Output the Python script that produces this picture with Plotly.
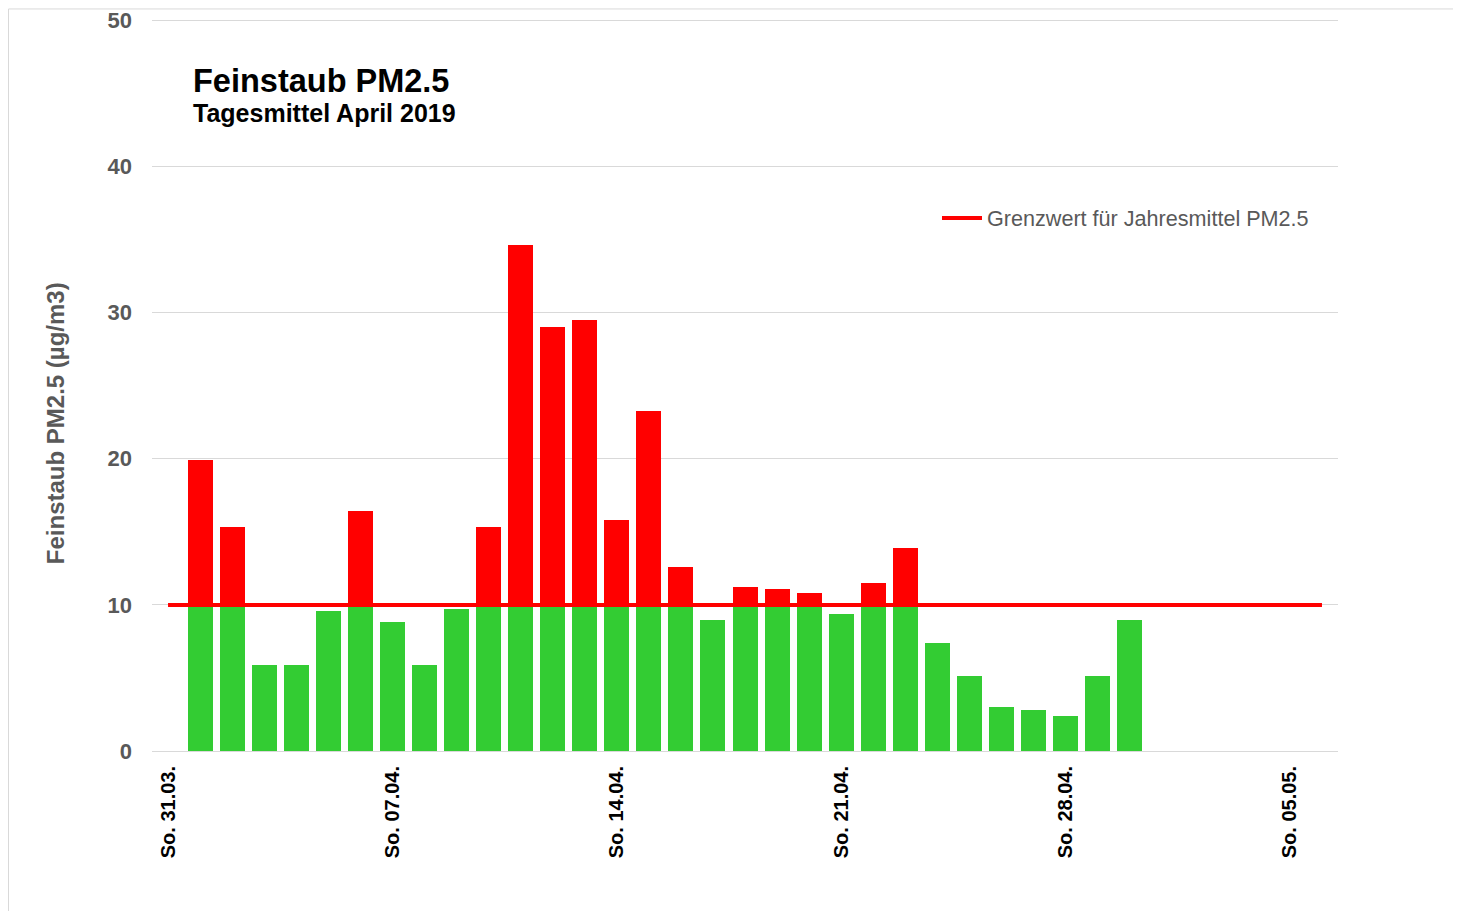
import plotly.graph_objects as go

# ---- data ----
days = [f"2019-04-{d:02d}" for d in range(1, 31)]
pm25 = [19.9, 15.3, 5.9, 5.9, 9.6, 16.4, 8.8, 5.9, 9.7, 15.3,
        34.6, 29.0, 29.5, 15.8, 23.3, 12.6, 9.0, 11.2, 11.1, 10.8,
        9.4, 11.5, 13.9, 7.4, 5.1, 3.0, 2.8, 2.4, 5.1, 9.0]
limit = 10
limit_x = ["2019-03-31", "2019-05-06"]
tick_dates = ["2019-03-31", "2019-04-07", "2019-04-14", "2019-04-21", "2019-04-28", "2019-05-05"]
tick_text = ["So. 31.03.", "So. 07.04.", "So. 14.04.", "So. 21.04.", "So. 28.04.", "So. 05.05."]
y_ticks = [0, 10, 20, 30, 40, 50]

green_part = [min(v, limit) for v in pm25]
red_part = [max(v - limit, 0) for v in pm25]

day_ms = 86400000
fig = go.Figure()
fig.add_trace(go.Bar(x=days, y=green_part, marker=dict(color="#33CC33", line=dict(width=0)),
                     width=0.78 * day_ms, showlegend=False, hoverinfo="skip"))
fig.add_trace(go.Bar(x=days, y=red_part, marker=dict(color="#FF0000", line=dict(width=0)),
                     width=0.78 * day_ms, showlegend=False, hoverinfo="skip"))
fig.add_trace(go.Scatter(x=limit_x, y=[limit, limit], mode="lines",
                         line=dict(color="#FF0000", width=4),
                         name="Grenzwert für Jahresmittel PM2.5"))

W, H = 1461, 911
YMAX = 50.1
L = 144
pw = 1186
unit = 731 / 50            # px per y unit
ph = unit * YMAX
bottom = 743
T = bottom - ph
R, B = W - L - pw, H - bottom

def px(x):
    return (x - L) / pw

def py(y):
    return (bottom - y) / ph

fig.update_layout(
    width=W, height=H,
    margin=dict(l=L, r=R, t=T, b=B, autoexpand=False),
    barmode="stack", bargap=0,
    plot_bgcolor="white", paper_bgcolor="white",
    font=dict(family="Liberation Sans, Arial, sans-serif"),
    showlegend=True,
    legend=dict(x=px(929), y=py(210), xanchor="left", yanchor="middle",
                bgcolor="rgba(0,0,0,0)", font=dict(size=21.6, color="#595959"),
                itemwidth=40),
    xaxis=dict(type="date", range=["2019-03-30 12:00", "2019-05-06 12:00"],
               tickmode="array", tickvals=tick_dates, ticktext=tick_text,
               tickangle=-90, tickfont=dict(size=20, color="black", weight="bold"),
               showgrid=False, showline=True, linecolor="#D9D9D9", linewidth=1,
               ticks="", ticklabelstandoff=6, zeroline=False, automargin=False),
    yaxis=dict(range=[0, YMAX], tickmode="array", tickvals=y_ticks,
               tickfont=dict(size=22, color="#595959", weight="bold"),
               showgrid=True, gridcolor="#D9D9D9", gridwidth=1,
               zeroline=False, showline=False, ticks="", ticklabelstandoff=19,
               automargin=False),
    annotations=[
        dict(text="<b>Feinstaub PM2.5</b>", x=px(183), y=py(73), xref="paper", yref="paper",
             xanchor="left", yanchor="middle", showarrow=False,
             font=dict(size=32.5, color="black")),
        dict(text="<b>Tagesmittel April 2019</b>", x=px(183), y=py(105), xref="paper", yref="paper",
             xanchor="left", yanchor="middle", showarrow=False,
             font=dict(size=25, color="black")),
        dict(text="<b>Feinstaub PM2.5 (µg/m3)</b>", x=px(47), y=py(415), xref="paper", yref="paper",
             xanchor="center", yanchor="middle", showarrow=False, textangle=-90,
             font=dict(size=24, color="#595959")),
    ],
    shapes=[
        dict(type="line", xref="paper", yref="paper", x0=px(0.5), x1=px(W), y0=py(0.5), y1=py(0.5),
             line=dict(color="#D9D9D9", width=1)),
        dict(type="line", xref="paper", yref="paper", x0=px(0.5), x1=px(0.5), y0=py(0.5), y1=py(H),
             line=dict(color="#D9D9D9", width=1)),
    ],
)

fig.write_html("out.html")
